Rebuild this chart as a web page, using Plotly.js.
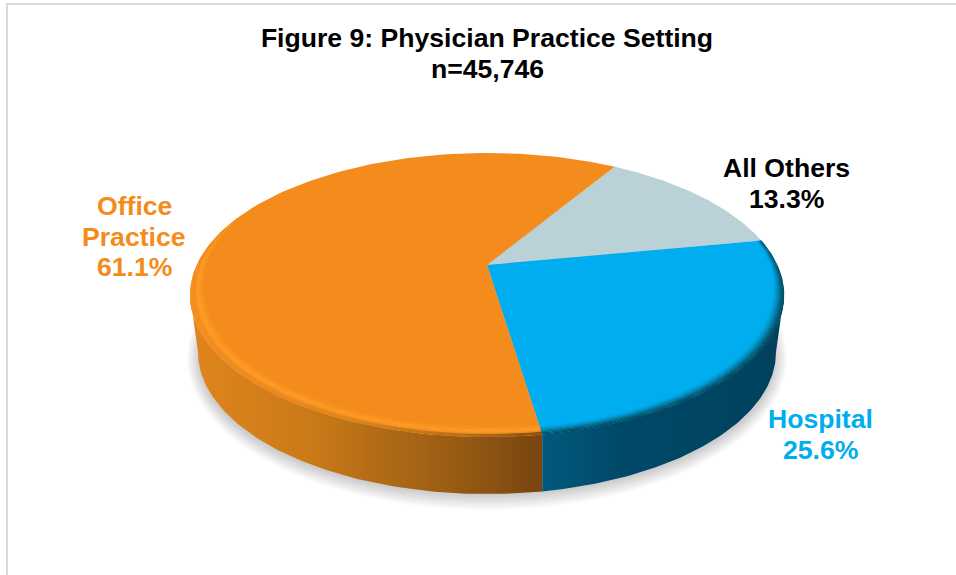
<!DOCTYPE html>
<html>
<head>
<meta charset="utf-8">
<script src="https://cdn.plot.ly/plotly-3.0.1.min.js"></script>
<style>html,body{margin:0;padding:0;background:#fff;overflow:hidden}#chart{width:956px;height:575px}</style>
</head>
<body>
<div id="chart"></div>
<script>
// Data (clockwise from the first slice)
var categories = ["All Others", "Hospital", "Office Practice"];
var shares = [13.3, 25.6, 61.1];
var labelLines = [["All Others", "13.3%"], ["Hospital", "25.6%"], ["Office", "Practice", "61.1%"]];
var sliceColors = ["#B9D1D7", "#00ADEE", "#F38C1C"];
var labelColors = ["#000000", "#00ADEE", "#F38C1C"];
var labelCenters = [[786, 168], [820, 419], [134, 206]];
var titleLine = "Figure 9: Physician Practice Setting";
var subtitleLine = "n=45,746";

// Projection of the disc
var startDeg = 31.3, cx = 487, cy = 265, a = 290.3, b = 135.7, k = 0.2113;
var rx = 297, ry = 142, ey = 295, brx = 289, bey = 352;
var rad = Math.PI / 180;

function project(phi, s) {
  var u = s * Math.sin(phi * rad), v = s * Math.cos(phi * rad), d = 1 + k * v;
  return [cx + a * u / d, cy - b * v / d];
}
function range(p0, p1, n) {
  var o = [];
  for (var i = 0; i <= n; i++) o.push(p0 + (p1 - p0) * i / n);
  return o;
}
function poly(points, color, gradient, name) {
  var t = {
    type: "scatter", mode: "lines", fill: "toself", name: name || "",
    x: points.map(function (p) { return p[0]; }),
    y: points.map(function (p) { return p[1]; }),
    line: { width: 0, color: color || "rgba(0,0,0,0)" },
    hoverinfo: "skip", showlegend: false
  };
  if (gradient) t.fillgradient = { type: "horizontal", colorscale: gradient };
  else t.fillcolor = color;
  return t;
}
// Slice boundaries from the values
var bounds = [startDeg];
shares.forEach(function (v, i) { bounds.push(bounds[i] + v * 3.6); });

var traces = [];

// Soft shadow
for (var i = 0; i < 10; i++) {
  var pts = range(0, 360, 120).map(function (t) {
    return [cx + (brx + 11 - i * 1.3) * Math.cos(t * rad),
            bey + 6 + (ry + 10 - i * 1.6) * Math.sin(t * rad)];
  });
  traces.push(poly(pts, "rgba(0,0,0,0.018)"));
}

// Side wall, split where the Hospital / Office boundary meets the rim
var splitX = project(bounds[2], 1)[0] - cx;
var tTop = Math.acos(splitX / rx) / rad, tBot = Math.acos(splitX / brx) / rad;
function wall(t0, t1, t2, t3) {
  var p = range(t0, t1, 80).map(function (t) {
    return [cx + rx * Math.cos(t * rad), ey + ry * Math.sin(t * rad)];
  });
  return p.concat(range(t2, t3, 80).map(function (t) {
    return [cx + brx * Math.cos(t * rad), bey + ry * Math.sin(t * rad)];
  }));
}
traces.push(poly(wall(180, tTop, tBot, 180), null,
  [[0, "#E0851C"], [0.35, "#C97A18"], [0.7, "#9E5F14"], [1, "#784510"]], "Office Practice side"));
traces.push(poly(wall(tTop, 0, 0, tBot), null,
  [[0, "#02597C"], [0.3, "#004A69"], [1, "#00415C"]], "Hospital side"));

// Top face
categories.forEach(function (c, i) {
  var pts = [[cx, cy]].concat(range(bounds[i], bounds[i + 1], 140).map(function (p) {
    return project(p, 1);
  }));
  pts.push([cx, cy]);
  traces.push(poly(pts, sliceColors[i], null, c));
});

// Bevel along the front of the rim
function band(p0, p1, sOut, sIn, taper, color, gradient) {
  var ph = range(p0, p1, 120);
  var outer = ph.map(function (p) { return project(p, 1 - (1 - sOut) * taper(p)); });
  var inner = ph.slice().reverse().map(function (p) { return project(p, 1 - (1 - sIn) * taper(p)); });
  return poly(outer.concat(inner), color, gradient);
}
var oEnd = 300, hStart = bounds[1], hEnd = bounds[2];
function oTaper(p) { return Math.min(1, Math.max(0, (oEnd - p) / 45)); }
function hTaper(p) { return Math.min(1, 0.45 + (p - hStart) / 50); }
var oranges = ["#F48D1D", "#F6901F", "#F99421", "#FC9925", "#FE9C28", "#FB9824"];
oranges.forEach(function (col, i) {
  traces.push(band(hEnd, oEnd, 0.951 + i * 0.006, 0.945 + i * 0.006, oTaper, col));
});
traces.push(band(hEnd, oEnd, 1, 0.986, oTaper, null,
  [[0, "#F5901F"], [0.45, "#E0841C"], [0.8, "#B56C17"], [1, "#8A5012"]]));
var blues = ["#01A7E6", "#029CD4", "#048CBC", "#067AA2", "#066788", "#06566F", "#064A62"];
blues.forEach(function (col, i) {
  traces.push(band(hStart, hEnd, 0.962 + i * 0.0055, 0.968 + i * 0.0055, hTaper, col));
});

// Labels, one annotation per line
var annotations = [];
categories.forEach(function (c, i) {
  labelLines[i].forEach(function (line, j) {
    annotations.push({
      xref: "x", yref: "y", x: labelCenters[i][0], y: labelCenters[i][1] + j * 30.5,
      text: line, showarrow: false, xanchor: "center", yanchor: "middle",
      font: { family: "Liberation Sans, Arial, sans-serif", size: 26.6, color: labelColors[i], weight: 700 }
    });
  });
});
annotations.push({
  xref: "x", yref: "y", x: 487, y: 69, text: subtitleLine, showarrow: false,
  xanchor: "center", yanchor: "middle",
  font: { family: "Liberation Sans, Arial, sans-serif", size: 26.6, color: "#000", weight: 700 }
});

var hidden = { visible: false, fixedrange: true };
var layout = {
  width: 956, height: 575, autosize: false,
  margin: { l: 0, r: 0, t: 0, b: 0, pad: 0 },
  paper_bgcolor: "#fff", plot_bgcolor: "#fff", showlegend: false,
  title: {
    text: titleLine, x: 487 / 956, xanchor: "center", xref: "paper",
    y: 1 - 38 / 575, yanchor: "middle", yref: "container",
    font: { family: "Liberation Sans, Arial, sans-serif", size: 26.6, color: "#000", weight: 700 }
  },
  xaxis: Object.assign({ range: [0, 956] }, hidden),
  yaxis: Object.assign({ range: [575, 0] }, hidden),
  annotations: annotations,
  shapes: [
    { type: "line", xref: "x", yref: "y", x0: 7, x1: 7, y0: 4, y1: 575, line: { color: "#D9D9D9", width: 2 } },
    { type: "line", xref: "x", yref: "y", x0: 6, x1: 956, y0: 4, y1: 4, line: { color: "#D9D9D9", width: 2 } }
  ]
};
Plotly.newPlot("chart", traces, layout, { displayModeBar: false, staticPlot: true });
</script>
</body>
</html>
